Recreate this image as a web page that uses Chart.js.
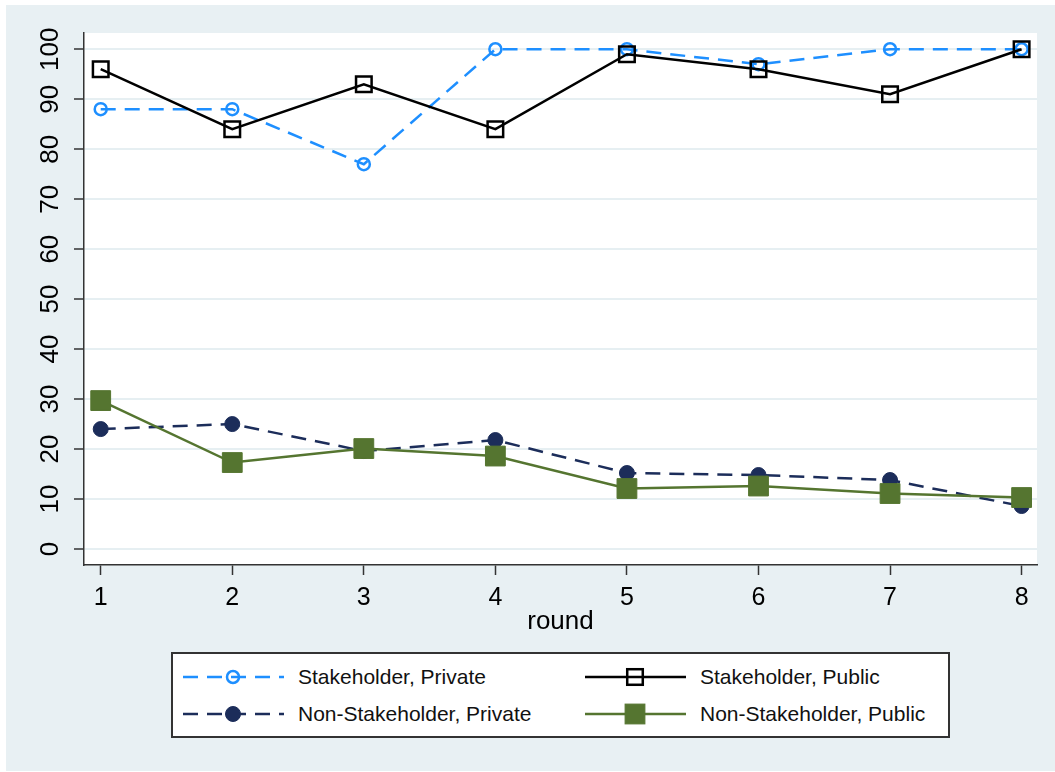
<!DOCTYPE html>
<html>
<head>
<meta charset="utf-8">
<title>round</title>
<script src="https://cdn.jsdelivr.net/npm/chart.js@4.4.1/dist/chart.umd.min.js"></script>
<style>
  body { margin: 0; background: #fff; font-family: "Liberation Sans", Arial, sans-serif; }
  #wrap { position: relative; width: 1055px; height: 772px; overflow: hidden; }
  #bg { position: absolute; left: 6px; top: 5px; right: 0; bottom: 1px; background: #e8f0f3; }
  #c { position: absolute; left: 0; top: 0; }
  #legend { position: absolute; left: 171px; top: 652px; width: 779px; height: 86px;
            box-sizing: border-box; border: 2px solid #333; background: #fff; }
  .item { position: absolute; height: 30px; display: flex; align-items: center;
          font-size: 21px; color: #111; white-space: nowrap; }
  .item svg { margin-right: 14px; flex: none; }
</style>
</head>
<body>
<div id="wrap">
  <div id="bg"></div>
  <canvas id="c" width="1055" height="772"></canvas>
  <div id="legend"></div>
</div>
<script>
// values
const rounds = [1, 2, 3, 4, 5, 6, 7, 8];
const yTicks = [0, 10, 20, 30, 40, 50, 60, 70, 80, 90, 100];
const stakePrivate = [88, 88, 77, 100, 100, 97, 100, 100];
const stakePublic = [96, 84, 93, 84, 99, 96, 91, 100];
const nonStakePrivate = [24, 25, 19.6, 21.8, 15.2, 14.8, 13.8, 8.6];
const nonStakePublic = [29.7, 17.3, 20.1, 18.6, 12.1, 12.6, 11.1, 10.3];
const seriesNames = ["Stakeholder, Private", "Stakeholder, Public",
                     "Non-Stakeholder, Private", "Non-Stakeholder, Public"];

const tickFont = "'Liberation Sans', Arial, sans-serif";
const narrowFont = "'Liberation Sans Narrow', 'Arial Narrow', 'Liberation Sans', Arial, sans-serif";

function toPoints(vals) {
  return rounds.map((r, i) => ({ x: r, y: vals[i] }));
}

const datasets = [
  {
    label: seriesNames[0],
    data: toPoints(stakePrivate),
    borderColor: "#1e8fff",
    borderWidth: 2.5,
    borderDash: [15, 9],
    pointStyle: "circle",
    pointRadius: 6,
    pointBorderWidth: 2.5,
    pointBorderColor: "#1e8fff",
    pointBackgroundColor: "rgba(0,0,0,0)",
    order: 3
  },
  {
    label: seriesNames[1],
    data: toPoints(stakePublic),
    borderColor: "#000000",
    borderWidth: 2.5,
    pointStyle: "rect",
    pointRadius: 11,
    pointBorderWidth: 2.5,
    pointBorderColor: "#000000",
    pointBackgroundColor: "rgba(0,0,0,0)",
    order: 1
  },
  {
    label: seriesNames[2],
    data: toPoints(nonStakePrivate),
    borderColor: "#1c2d5a",
    borderWidth: 2.5,
    borderDash: [15, 9],
    pointStyle: "circle",
    pointRadius: 7.5,
    pointBorderWidth: 1,
    pointBorderColor: "#1c2d5a",
    pointBackgroundColor: "#1c2d5a",
    order: 2
  },
  {
    label: seriesNames[3],
    data: toPoints(nonStakePublic),
    borderColor: "#557530",
    borderWidth: 2.5,
    pointStyle: "rect",
    pointRadius: 14,
    pointBorderWidth: 1,
    pointBorderColor: "#557530",
    pointBackgroundColor: "#557530",
    order: 0
  }
];

// white plot region behind the lines
const plotBg = {
  id: "plotBg",
  beforeDraw(chart) {
    const { ctx, chartArea: a } = chart;
    ctx.save();
    ctx.fillStyle = "#ffffff";
    ctx.fillRect(a.left, a.top, a.right - a.left, a.bottom - a.top);
    ctx.restore();
  }
};

new Chart(document.getElementById("c"), {
  type: "line",
  data: { datasets },
  plugins: [plotBg],
  options: {
    responsive: false,
    animation: false,
    devicePixelRatio: 1,
    layout: { padding: { left: 0, top: 33, right: 18, bottom: 135 } },
    elements: { line: { tension: 0, fill: false } },
    plugins: { legend: { display: false }, tooltip: { enabled: false } },
    scales: {
      x: {
        type: "linear",
        min: 0.873,
        max: 8.117,
        afterBuildTicks: s => { s.ticks = rounds.map(v => ({ value: v })); },
        afterFit: s => { s.height = 72; },
        grid: { drawOnChartArea: false, drawTicks: true, tickLength: 10, tickColor: "#333", tickWidth: 1.5 },
        border: { display: true, color: "#333", width: 1.5 },
        ticks: { color: "#000", font: { family: tickFont, size: 25 }, padding: 8, maxRotation: 0, autoSkip: false },
        title: { display: true, text: "round", color: "#000", font: { family: tickFont, size: 26 }, padding: { top: 0, bottom: 0 } }
      },
      y: {
        type: "linear",
        min: -3.2,
        max: 103.25,
        afterBuildTicks: s => { s.ticks = yTicks.map(v => ({ value: v })); },
        afterFit: s => { s.width = 84; },
        grid: { color: "#e6eff2", lineWidth: 2, tickColor: "#333", tickLength: 10, tickWidth: 1.5 },
        border: { display: true, color: "#333", width: 1.5 },
        ticks: { color: "#000", font: { family: narrowFont, size: 26 }, padding: 1,
                 minRotation: 90, maxRotation: 90, crossAlign: "center", autoSkip: false }
      }
    }
  }
});

// legend box, two columns like the original
function legendSample(ds) {
  const dash = ds.borderDash ? `stroke-dasharray="${ds.borderDash.join(" ")}"` : "";
  let marker;
  if (ds.pointStyle === "circle") {
    marker = `<circle cx="50" cy="15" r="${ds.pointRadius}" fill="${ds.pointBackgroundColor}" stroke="${ds.pointBorderColor}" stroke-width="${ds.pointBorderWidth}"/>`;
  } else {
    const s = ds.pointRadius * Math.SQRT1_2;
    marker = `<rect x="${50 - s}" y="${15 - s}" width="${2 * s}" height="${2 * s}" fill="${ds.pointBackgroundColor}" stroke="${ds.pointBorderColor}" stroke-width="${ds.pointBorderWidth}"/>`;
  }
  return `<svg width="101" height="30"><line x1="0" y1="15" x2="101" y2="15" stroke="${ds.borderColor}" stroke-width="${ds.borderWidth}" ${dash}/>${marker}</svg>`;
}

const slots = [{ left: 10, top: 8 }, { left: 412, top: 8 }, { left: 10, top: 45 }, { left: 412, top: 45 }];
document.getElementById("legend").innerHTML = datasets.map((ds, i) =>
  `<div class="item" style="left:${slots[i].left}px;top:${slots[i].top}px">${legendSample(ds)}<span>${ds.label}</span></div>`
).join("");
</script>
</body>
</html>
